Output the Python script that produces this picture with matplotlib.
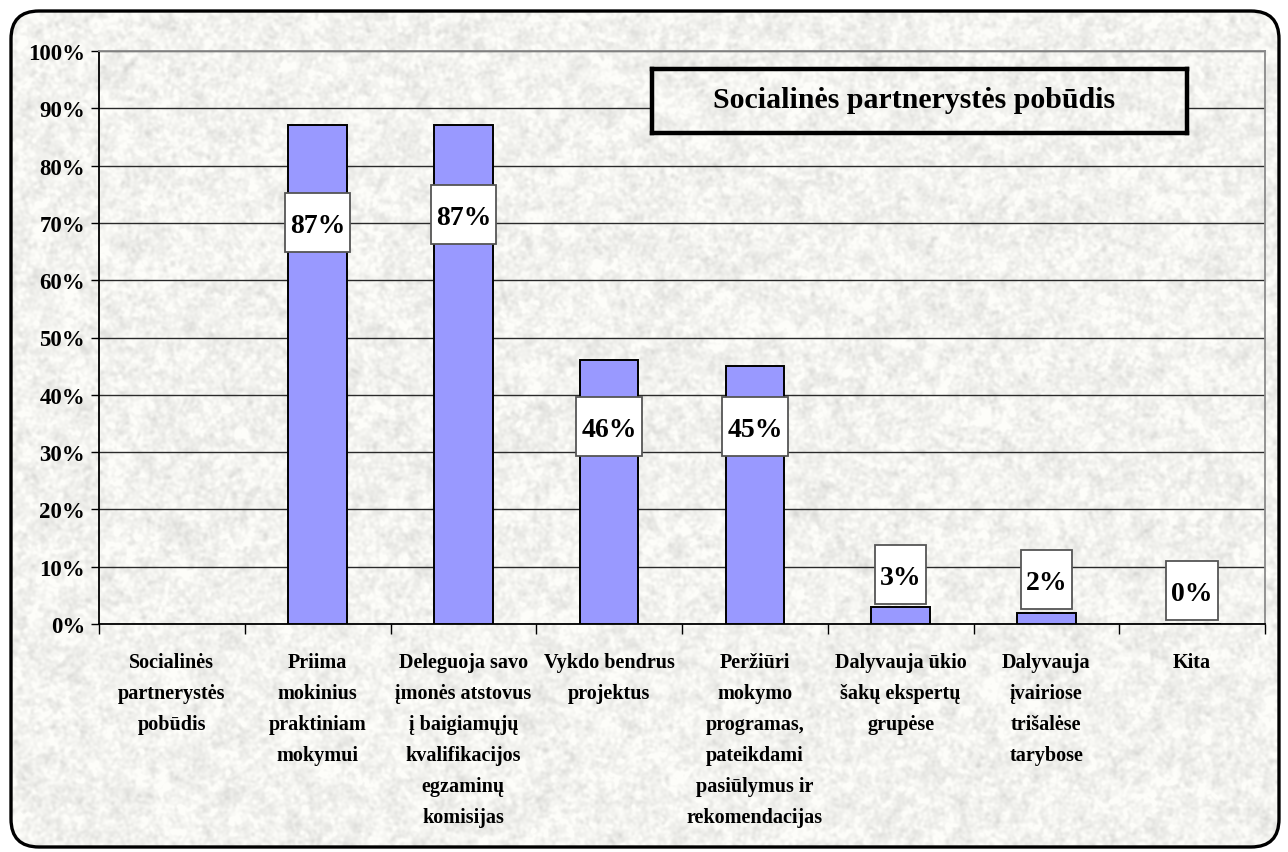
import numpy as np
import matplotlib
matplotlib.use("Agg")
import matplotlib.pyplot as plt
from matplotlib.patches import FancyBboxPatch, Rectangle

# ---- data -------------------------------------------------------------
categories = [
    "Socialinės\npartnerystės\npobūdis",
    "Priima\nmokinius\npraktiniam\nmokymui",
    "Deleguoja savo\nįmonės atstovus\nį baigiamųjų\nkvalifikacijos\negzaminų\nkomisijas",
    "Vykdo bendrus\nprojektus",
    "Peržiūri\nmokymo\nprogramas,\npateikdami\npasiūlymus ir\nrekomendacijas",
    "Dalyvauja ūkio\nšakų ekspertų\ngrupėse",
    "Dalyvauja\nįvairiose\ntrišalėse\ntarybose",
    "Kita",
]
values = [np.nan, 87, 87, 46, 45, 3, 2, 0]
ytick_values = list(range(0, 101, 10))
title = "Socialinės partnerystės pobūdis"

# vertical centre of each value label box (axis units, %)
label_centres = [None, 70.0, 71.4, 34.5, 34.5, 8.7, 7.7, 5.8]

W, H = 1288, 853
SERIF = ["Liberation Serif", "DejaVu Serif"]

# ---- mottled paper texture ---------------------------------------------
def smooth(field, sigma):
    fy = np.fft.fftfreq(field.shape[0])[:, None]
    fx = np.fft.fftfreq(field.shape[1])[None, :]
    kernel = np.exp(-2 * (np.pi * sigma) ** 2 * (fx ** 2 + fy ** 2))
    return np.real(np.fft.ifft2(np.fft.fft2(field) * kernel))

rng = np.random.default_rng(7)
fine = smooth(rng.standard_normal((H, W)), 1.5)
mid = smooth(rng.standard_normal((H, W)), 4.5)
fine /= fine.std()
mid /= mid.std()
val = 0.8 * fine + 0.55 * mid
tex = np.clip(243 + 6.5 * val, 210, 253)
texture = np.dstack([tex, tex, tex * 0.985]).astype(np.uint8)

fig = plt.figure(figsize=(W / 100, H / 100), dpi=100)
fig.patch.set_facecolor("white")

bg = fig.add_axes([0, 0, 1, 1])
bg.set_xlim(0, W)
bg.set_ylim(H, 0)
bg.axis("off")
im = bg.imshow(texture, extent=(0, W, H, 0), aspect="auto", interpolation="bilinear", zorder=0)
frame = FancyBboxPatch((11, 12), 1268, 836, boxstyle="round,pad=0,rounding_size=28",
                       fc="none", ec="black", lw=2.4, zorder=2)
bg.add_patch(frame)
im.set_clip_path(frame)

# ---- main plot ----------------------------------------------------------
x0, x1, y0, y1 = 99, 1265, 52, 625
ax = fig.add_axes([x0 / W, 1 - y1 / H, (x1 - x0) / W, (y1 - y0) / H])
ax.patch.set_alpha(0)
xpos = np.arange(len(categories))
ax.bar(xpos, values, width=0.4, color="#9999FF", edgecolor="black", linewidth=1.4, zorder=3)
ax.set_xlim(-0.5, len(categories) - 0.5)
ax.set_ylim(0, 100)

ax.set_yticks(ytick_values)
ax.set_yticklabels([f"{v}%" for v in ytick_values], fontfamily=SERIF, fontweight="bold", fontsize=16.5)
ax.tick_params(axis="y", length=6, width=1, color="black", pad=4)
ax.yaxis.grid(True, color="#2a2a2a", linewidth=1.0)
ax.set_axisbelow(True)

ax.set_xticks(xpos)
ax.set_xticklabels(categories, fontfamily=SERIF, fontweight="bold", fontsize=14.5, va="top")
for lbl in ax.get_xticklabels():
    lbl.set_linespacing(1.73)
ax.tick_params(axis="x", length=0, pad=20)
ax.set_xticks(np.arange(-0.5, len(categories), 1), minor=True)
ax.tick_params(axis="x", which="minor", length=7, width=1, color="black")

for side in ("left", "bottom"):
    ax.spines[side].set_color("black")
    ax.spines[side].set_linewidth(1.3)
for side in ("top", "right"):
    ax.spines[side].set_color("#8a8a8a")
    ax.spines[side].set_linewidth(1.3)

# value labels in white boxes
fig.canvas.draw()
renderer = fig.canvas.get_renderer()
inv = ax.transData.inverted()
box_h_px = 59
for xi, v, yc in zip(xpos, values, label_centres):
    if yc is None or np.isnan(v):
        continue
    t = ax.text(xi, yc, f"{v:.0f}%", ha="center", va="center_baseline", fontfamily=SERIF,
                fontweight="bold", fontsize=20, zorder=6)
    ext = t.get_window_extent(renderer)
    cx, cy = ax.transData.transform((xi, yc))
    wpx = ext.width + 10
    (lx, ly) = inv.transform((cx - wpx / 2, cy - box_h_px / 2))
    (rx, ry) = inv.transform((cx + wpx / 2, cy + box_h_px / 2))
    ax.add_patch(Rectangle((lx, ly), rx - lx, ry - ly, facecolor="white", edgecolor="#555555",
                           linewidth=1.3, zorder=5))

# ---- title box ------------------------------------------------------------
tx0, ty0, tx1, ty1 = 652, 70, 1187, 134
tax = fig.add_axes([tx0 / W, 1 - ty1 / H, (tx1 - tx0) / W, (ty1 - ty0) / H])
tax.imshow(texture[ty0:ty1, tx0:tx1], extent=(0, 1, 0, 1), aspect="auto", interpolation="bilinear")
tax.set_xticks([])
tax.set_yticks([])
for s in tax.spines.values():
    s.set_linewidth(3.2)
    s.set_color("black")
tax.text(0.49, 0.52, title, ha="center", va="center", transform=tax.transAxes,
         fontfamily=SERIF, fontweight="bold", fontsize=21.5)

fig.savefig("out.png", dpi=100)
